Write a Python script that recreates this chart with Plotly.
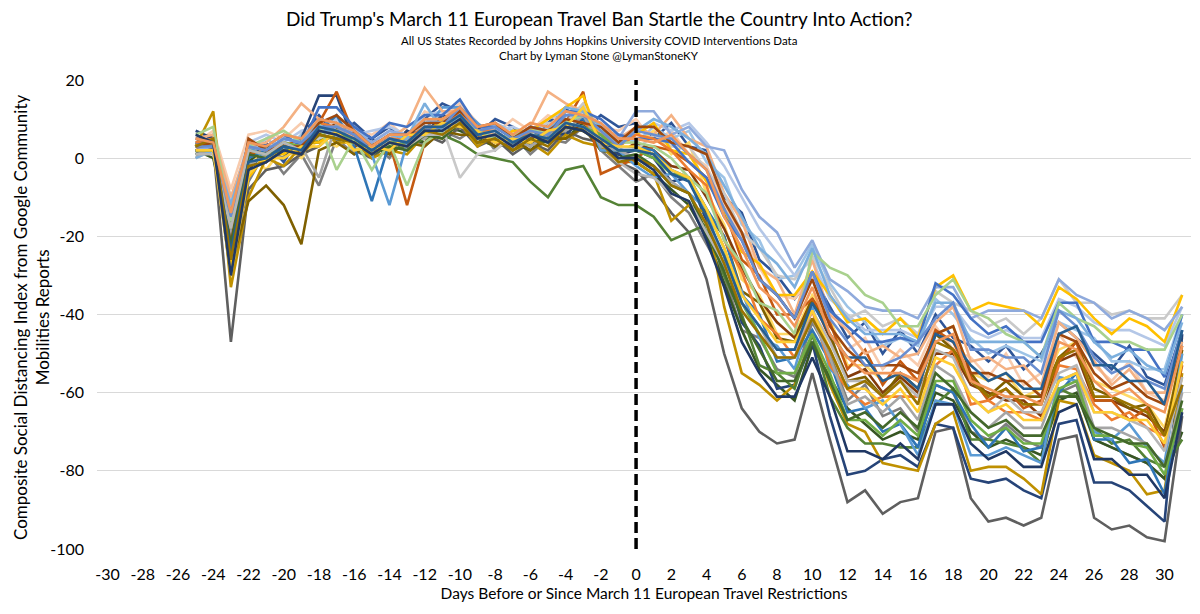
import plotly.graph_objects as go

days = list(range(-25, 32))
x_ticks = list(range(-30, 31, 2))
x_tick_text = [str(v) for v in x_ticks]
y_ticks = [-100, -80, -60, -40, -20, 0, 20]

# each state's composite index: 25 values for days -25..-1, then 32 values for days 0..31
s01_pre = [1, 3, -47, -8, -3, -2, 1, 3, 7, 2, 0, 4, 2, 6, 4, 8, 3, 5, 1, 4, 2, 7, 5, 4, -1]
s01_post = [-3, -8, -14, -19, -31, -50, -64, -70, -73, -72, -55, -72, -88, -85, -91, -88, -87, -70, -69, -87, -93, -92, -94, -92, -72, -71, -92, -95, -94, -97, -98, -66]
s02_pre = [7, 5, -25, -3, 2, 0, 5, 16, 16, 4, 5, 2, 7, 6, 11, 9, 8, 4, 6, 3, 7, 6, 10, 5, 1]
s02_post = [2, 0, -6, -5, -16, -25, -42, -48, -59, -58, -47, -66, -81, -80, -77, -76, -79, -68, -69, -82, -83, -82, -85, -87, -68, -67, -83, -83, -85, -89, -93, -45]
s03_pre = [3, 12, -33, -10, 0, -2, 3, 7, 4, 4, 0, 2, 1, 6, 5, 9, 3, 6, 2, 4, 1, 6, 4, 3, -1]
s03_post = [-1, -4, -16, -12, -14, -38, -55, -58, -62, -58, -45, -58, -68, -70, -78, -79, -80, -68, -65, -80, -79, -79, -82, -86, -62, -63, -76, -78, -80, -86, -85, -55]
s04_pre = [2, 3, -28, -11, -7, -12, -22, 2, 4, 1, 4, 1, 4, 3, 7, 6, 6, 3, 5, 2, 5, 5, 8, 2, 2]
s04_post = [3, 1, -4, -5, -14, -20, -34, -37, -46, -47, -36, -45, -57, -56, -61, -55, -59, -45, -49, -55, -61, -57, -61, -61, -51, -47, -59, -61, -64, -63, -71, -49]
s05_pre = [1, 2, -18, -2, 1, 2, 3, 5, 6, 4, 2, 3, 3, 5, 6, 4, 1, 0, -1, -6, -10, -3, -2, -10, -12]
s05_post = [-12, -15, -21, -19, -17, -30, -40, -53, -55, -59, -45, -61, -69, -73, -73, -74, -74, -63, -59, -72, -72, -73, -74, -78, -59, -61, -69, -73, -72, -77, -79, -72]
s06_pre = [2, 4, -20, 1, 2, 3, 5, 9, 17, 6, 3, 4, -12, 4, 7, 11, 6, 4, 3, 5, 6, 9, 17, -4, -2]
s06_post = [0, 3, 2, -1, -5, -13, -26, -30, -40, -40, -36, -42, -54, -49, -58, -52, -57, -44, -47, -56, -62, -59, -64, -62, -52, -47, -62, -62, -67, -64, -74, -53]
s07_pre = [4, 3, -20, 0, 2, 2, 5, 7, 11, 3, -11, 4, 4, 8, 8, 13, 6, 6, 3, 7, 5, 10, 10, 6, 2]
s07_post = [3, 2, -3, -5, -13, -20, -35, -40, -52, -51, -44, -52, -65, -64, -70, -68, -74, -58, -60, -68, -74, -69, -75, -74, -60, -55, -72, -72, -78, -77, -86, -58]
s08_pre = [2, 1, -17, 3, 0, 3, 2, 7, 7, 6, 1, -12, 4, 7, 13, 13, 9, 5, 6, 4, 7, 9, 13, 2, 2]
s08_post = [-2, -5, -4, -9, -13, -28, -34, -46, -48, -54, -38, -54, -58, -64, -62, -68, -76, -62, -63, -76, -76, -74, -76, -78, -56, -57, -70, -72, -68, -74, -78, -50]
s09_pre = [5, 6, -10, 3, 4, 8, 14, 10, 9, 5, 4, 5, 8, 18, 12, 12, 7, 6, 5, 8, 17, 14, 12, 6, 5]
s09_post = [8, 6, 11, 5, 3, -9, -16, -28, -31, -40, -26, -40, -44, -50, -48, -51, -50, -42, -38, -52, -51, -54, -53, -58, -42, -46, -52, -58, -54, -60, -60, -47]
s10_pre = [0, 2, -22, 5, 2, 3, 4, 5, 7, 7, 3, 4, 3, 7, 8, -5, 1, 2, 6, 6, 9, 9, 14, 5, 3]
s10_post = [2, 6, 3, 3, -3, -9, -19, -23, -30, -31, -25, -33, -41, -39, -43, -41, -45, -34, -37, -39, -43, -41, -45, -41, -31, -37, -37, -40, -39, -41, -41, -35]
s11_pre = [3, 4, -28, -5, 1, 1, 4, 4, 7, 2, 3, 2, 5, 6, 10, 9, 7, 4, 7, 7, 10, 13, 16, 4, 3]
s11_post = [6, 9, 2, 1, -6, -13, -24, -27, -35, -35, -29, -35, -42, -41, -45, -41, -46, -33, -30, -39, -37, -38, -39, -43, -33, -36, -41, -45, -41, -43, -47, -35]
s12_pre = [2, 3, -12, 3, 2, 5, 4, 8, 7, 7, 4, 7, 6, 10, 9, 13, 7, 8, 5, 8, 7, 12, 11, 9, 5]
s12_post = [12, 12, 6, 8, 3, 2, -8, -15, -19, -28, -21, -31, -34, -38, -39, -39, -41, -33, -33, -41, -39, -39, -39, -41, -31, -35, -37, -41, -39, -41, -44, -38]
s13_pre = [4, 3, -14, 4, 3, 6, 3, 13, 13, 8, 5, 9, 8, 11, 11, 15, 8, 8, 5, 8, 7, 12, 12, 10, 6]
s13_post = [5, 5, 4, -1, -5, -15, -21, -31, -35, -41, -29, -39, -43, -47, -47, -46, -47, -32, -35, -41, -45, -43, -47, -47, -37, -37, -47, -47, -49, -49, -56, -40]
s14_pre = [4, 5, -16, 3, 2, 4, 3, 9, 8, 6, 2, 5, 5, 8, 8, 12, 7, 7, 4, 7, 6, 10, 9, 6, 3]
s14_post = [6, 5, 2, -3, -7, -21, -29, -41, -45, -51, -39, -53, -59, -63, -61, -61, -61, -53, -49, -63, -62, -65, -65, -67, -53, -54, -63, -67, -65, -69, -71, -58]
s15_pre = [1, 2, -20, -2, 1, 0, 3, -5, 9, 2, 3, 2, 5, 5, 9, 9, 7, 4, 5, 3, 6, 7, 11, 3, 2]
s15_post = [0, -2, -6, -9, -17, -25, -37, -43, -51, -51, -41, -51, -63, -61, -65, -61, -67, -53, -56, -65, -69, -65, -69, -69, -57, -55, -69, -69, -71, -73, -79, -60]
s16_pre = [3, 4, -18, 2, 1, 4, 3, 7, 6, 5, 1, 4, 4, 7, 7, 10, 5, 6, 4, 6, 5, 9, 8, 6, 2]
s16_post = [2, 0, -4, -5, -13, -23, -37, -45, -55, -55, -45, -55, -67, -67, -71, -67, -71, -57, -57, -67, -71, -69, -73, -73, -59, -57, -71, -71, -73, -74, -81, -64]
s17_pre = [6, 8, -16, 3, 5, 7, 4, 9, -3, 5, -3, 4, -7, 4, 7, 10, 7, 5, 6, 7, 7, 9, 11, 7, 4]
s17_post = [4, 3, 0, -5, -9, -21, -27, -37, -39, -45, -24, -28, -30, -35, -37, -43, -43, -35, -31, -39, -41, -45, -47, -51, -37, -41, -43, -47, -47, -49, -49, -40]
s18_pre = [0, 2, -12, 3, 2, 5, 4, 10, 9, 7, 3, 6, 5, 14, 7, 11, 6, 7, 4, 8, 7, 13, 12, 8, 4]
s18_post = [7, 10, 8, 5, 1, -7, -15, -23, -27, -33, -23, -35, -41, -45, -45, -45, -47, -37, -37, -47, -47, -47, -47, -51, -39, -41, -47, -51, -49, -53, -55, -42]
s19_pre = [3, 4, -22, 5, 2, 3, 3, 9, 11, 7, 3, 6, 6, 9, 9, 12, 8, 9, 5, 8, 7, 10, 9, 8, 4]
s19_post = [8, 8, 4, 3, 1, -11, -19, -31, -35, -41, -31, -43, -49, -53, -53, -53, -55, -45, -43, -55, -55, -57, -57, -61, -45, -47, -55, -59, -57, -61, -63, -48]
s20_pre = [3, 3, -15, 3, 2, 5, 4, 8, 8, 6, 2, 5, 4, 7, 8, 13, 7, 8, 5, 7, 6, 11, 11, 7, 3]
s20_post = [7, 6, 5, 1, -3, -13, -21, -31, -35, -41, -29, -41, -47, -53, -53, -51, -47, -41, -37, -49, -49, -51, -51, -55, -39, -43, -51, -55, -53, -57, -59, -44]
s21_pre = [2, 2, -22, 1, 0, 3, 2, 6, 5, 4, 1, 3, 2, 6, 5, 9, 4, 5, 2, 5, 4, 8, 7, 4, 0]
s21_post = [1, -2, -7, -9, -19, -29, -41, -49, -57, -57, -47, -57, -67, -65, -69, -65, -69, -55, -59, -65, -69, -67, -71, -71, -61, -61, -69, -71, -73, -73, -79, -62]
s22_pre = [1, 1, -18, 2, 1, 4, 2, 7, 6, 4, 1, 4, 3, 6, 6, 9, 5, 6, 3, 6, 5, 9, 8, 4, -1]
s22_post = [-4, -5, -9, -11, -19, -27, -37, -43, -49, -49, -39, -47, -57, -57, -61, -57, -61, -49, -51, -61, -65, -61, -65, -65, -55, -53, -65, -65, -67, -69, -75, -56]
s23_pre = [2, 2, -30, -4, 0, 0, 3, 3, 7, 2, 3, 2, 6, 6, 9, 8, 7, 4, 5, 4, 7, 8, 13, 4, 3]
s23_post = [3, 1, -3, -5, -13, -23, -35, -41, -47, -47, -39, -49, -59, -59, -63, -59, -65, -51, -53, -61, -65, -63, -67, -67, -57, -55, -65, -65, -67, -67, -73, -52]
s24_pre = [5, 4, -24, -1, 0, 3, 2, 8, 7, 5, 2, 5, 4, 8, 8, 11, 6, 7, 4, 6, 5, 9, 8, 5, 2]
s24_post = [2, 1, -4, -6, -15, -25, -37, -43, -49, -49, -37, -45, -51, -51, -57, -55, -59, -45, -47, -53, -57, -55, -59, -59, -45, -43, -53, -53, -57, -57, -63, -44]
s25_pre = [3, 5, -26, -2, -1, 2, 1, 6, 5, 4, 1, 4, 3, 7, 6, 9, 4, 5, 2, 5, 3, 8, 7, 4, -1]
s25_post = [0, -2, -7, -9, -17, -27, -39, -45, -51, -51, -41, -49, -59, -57, -61, -57, -63, -47, -49, -57, -61, -59, -63, -63, -51, -49, -61, -61, -63, -65, -71, -58]
s26_pre = [6, 4, -30, -3, -1, 2, 1, 7, 6, 4, 1, 4, 3, 7, 7, 10, 5, 6, 3, 6, 4, 8, 7, 4, 0]
s26_post = [0, -3, -9, -11, -21, -33, -47, -55, -61, -61, -51, -61, -75, -75, -77, -73, -77, -63, -63, -73, -77, -75, -79, -79, -65, -63, -77, -77, -81, -81, -87, -65]
s27_pre = [5, 4, -14, 4, 3, 6, 5, 10, 9, 7, 3, 6, 6, 10, 10, 13, 8, 9, 6, 9, 8, 12, 11, 9, 5]
s27_post = [5, 4, 6, 1, -3, -15, -23, -33, -37, -43, -33, -45, -51, -55, -55, -55, -57, -47, -45, -57, -59, -61, -61, -63, -47, -49, -57, -61, -59, -63, -65, -48]
s28_pre = [3, 6, -19, 0, 4, -1, 6, 11, 6, 9, 5, 8, 3, 10, 14, 12, 6, 10, 8, 4, 9, 13, 7, 11, 8]
s28_post = [9, 5, 9, 3, 2, -10, -14, -26, -30, -36, -30, -38, -46, -42, -50, -44, -50, -40, -46, -48, -52, -48, -54, -50, -42, -46, -50, -54, -48, -56, -58, -44]
s29_pre = [4, 7, -8, 6, 7, 5, 9, 5, 11, 7, 6, 9, 5, 12, 10, 14, 9, 6, 10, 7, 11, 9, 14, 8, 7]
s29_post = [10, 4, 7, 1, -2, -12, -20, -28, -35, -36, -30, -43, -49, -46, -54, -49, -53, -43, -49, -51, -56, -50, -58, -55, -45, -51, -53, -57, -52, -60, -62, -46]
s30_pre = [0, 3, -30, -6, 2, -4, 1, -7, 5, 1, 4, 0, 6, 3, 7, 5, 8, 2, 6, 1, 5, 4, 8, 2, -2]
s30_post = [-6, -4, -10, -14, -22, -30, -44, -46, -54, -56, -42, -50, -62, -58, -66, -64, -70, -58, -60, -70, -72, -68, -72, -74, -60, -58, -72, -74, -76, -78, -82, -64]
s31_pre = [4, 2, -24, 2, -3, 3, 0, 5, 3, 6, 3, 5, 2, 8, 6, 11, 5, 3, 7, 4, 8, 6, 10, 3, 4]
s31_post = [4, 7, 1, 4, -9, -17, -31, -35, -45, -45, -35, -41, -53, -53, -57, -55, -57, -45, -43, -55, -57, -55, -61, -59, -49, -47, -57, -59, -61, -63, -69, -50]
s32_pre = [1, 4, -10, 1, 5, 2, 6, 9, 5, 8, 4, 7, 5, 9, 11, 10, 6, 9, 7, 5, 8, 11, 9, 6, 6]
s32_post = [4, 8, 5, 7, -1, -5, -17, -21, -31, -30, -22, -32, -38, -42, -48, -46, -48, -36, -40, -46, -50, -48, -50, -52, -42, -44, -46, -52, -52, -54, -54, -40]
s33_pre = [2, 0, -20, -1, 3, 1, 4, 4, 8, 2, 3, 1, 5, 4, 8, 7, 5, 3, 4, 2, 6, 5, 9, 2, 1]
s33_post = [-1, -4, -8, -12, -20, -32, -44, -54, -58, -62, -48, -56, -64, -68, -72, -70, -72, -60, -62, -70, -74, -72, -74, -76, -62, -60, -72, -74, -76, -78, -82, -70]
s34_pre = [3, 2, -21, 2, -1, 4, 1, 6, 9, 3, 4, 3, 7, 5, 10, 8, 7, 6, 3, 6, 5, 9, 7, 5, 1]
s34_post = [4, 2, -2, -3, -10, -18, -28, -36, -42, -46, -36, -46, -56, -54, -60, -56, -60, -50, -50, -58, -60, -62, -62, -66, -52, -50, -62, -62, -64, -66, -70, -52]
s35_pre = [3, 5, -11, 4, 6, 4, 7, 8, 10, 6, 7, 8, 6, 11, 12, 11, 8, 7, 8, 6, 10, 12, 10, 7, 6]
s35_post = [6, 9, 7, 9, 4, -2, -10, -18, -24, -30, -26, -36, -40, -44, -44, -44, -46, -38, -38, -44, -46, -44, -46, -46, -36, -38, -42, -44, -44, -46, -48, -38]

states = [
    ("State 28", "#2F5597", s28_pre, s28_post),
    ("State 29", "#F8CBAD", s29_pre, s29_post),
    ("State 30", "#7F7F7F", s30_pre, s30_post),
    ("State 31", "#FFD966", s31_pre, s31_post),
    ("State 32", "#9DC3E6", s32_pre, s32_post),
    ("State 33", "#375623", s33_pre, s33_post),
    ("State 34", "#843C0C", s34_pre, s34_post),
    ("State 35", "#B4C7E7", s35_pre, s35_post),
    ("State 1", "#5f5f5f", s01_pre, s01_post),
    ("State 2", "#264478", s02_pre, s02_post),
    ("State 3", "#BF9000", s03_pre, s03_post),
    ("State 4", "#7F6000", s04_pre, s04_post),
    ("State 5", "#548235", s05_pre, s05_post),
    ("State 6", "#C55A11", s06_pre, s06_post),
    ("State 7", "#2E75B6", s07_pre, s07_post),
    ("State 8", "#5B9BD5", s08_pre, s08_post),
    ("State 9", "#F4B183", s09_pre, s09_post),
    ("State 10", "#C9C9C9", s10_pre, s10_post),
    ("State 11", "#FFC000", s11_pre, s11_post),
    ("State 12", "#8FAADC", s12_pre, s12_post),
    ("State 13", "#4472C4", s13_pre, s13_post),
    ("State 14", "#ED7D31", s14_pre, s14_post),
    ("State 15", "#A5A5A5", s15_pre, s15_post),
    ("State 16", "#70AD47", s16_pre, s16_post),
    ("State 17", "#A9D18E", s17_pre, s17_post),
    ("State 18", "#7CAFDD", s18_pre, s18_post),
    ("State 19", "#9E480E", s19_pre, s19_post),
    ("State 20", "#698ED0", s20_pre, s20_post),
    ("State 21", "#43682B", s21_pre, s21_post),
    ("State 22", "#B7B7B7", s22_pre, s22_post),
    ("State 23", "#FFCD33", s23_pre, s23_post),
    ("State 24", "#255E91", s24_pre, s24_post),
    ("State 25", "#997300", s25_pre, s25_post),
    ("State 26", "#203864", s26_pre, s26_post),
    ("State 27", "#F1975A", s27_pre, s27_post),
]

FONT = "Gill Sans, Gill Sans MT, Lato, sans-serif"

fig = go.Figure()
for name, color, pre, post in states:
    fig.add_trace(go.Scatter(
        x=days, y=pre + post, mode="lines", name=name,
        line=dict(color=color, width=2.6), showlegend=False,
    ))

fig.add_shape(type="line", xref="x", yref="y", x0=0, x1=0, y0=-100, y1=20,
              line=dict(color="black", width=3.5, dash="11px,5px"), layer="above")

fig.update_layout(
    width=1200, height=614,
    margin=dict(l=97, r=9, t=80, b=65),
    paper_bgcolor="white", plot_bgcolor="white",
    font=dict(family=FONT, color="black"),
    xaxis=dict(
        range=[-30.6, 31.5], tickmode="array", tickvals=x_ticks, ticktext=x_tick_text,
        showgrid=False, zeroline=False, showline=False, ticks="",
        tickfont=dict(size=16, color="black"), ticklabelstandoff=14,
        title=dict(text="Days Before or Since March 11 European Travel Restrictions",
                   font=dict(size=15.5, color="black"), standoff=6),
    ),
    yaxis=dict(
        range=[-100, 20], tickmode="array", tickvals=y_ticks,
        ticktext=[str(v) if v >= 0 else "-" + str(-v) for v in y_ticks],
        showgrid=True, gridcolor="#D9D9D9", gridwidth=1,
        zeroline=False, showline=False, ticks="",
        tickfont=dict(size=16, color="black"), ticklabelstandoff=12,
    ),
    annotations=[
        dict(text="Did Trump's March 11 European Travel Ban Startle the Country Into Action?",
             xref="paper", yref="paper", x=0.459, y=(549 - 18) / 469, xanchor="center", yanchor="middle",
             showarrow=False, font=dict(size=19, color="black", family=FONT)),
        dict(text="All US States Recorded by Johns Hopkins University COVID Interventions Data",
             xref="paper", yref="paper", x=0.459, y=(549 - 40) / 469, xanchor="center", yanchor="middle",
             showarrow=False, font=dict(size=11.5, color="black", family=FONT)),
        dict(text="Chart by Lyman Stone @LymanStoneKY",
             xref="paper", yref="paper", x=0.459, y=(549 - 55) / 469, xanchor="center", yanchor="middle",
             showarrow=False, font=dict(size=11.5, color="black", family=FONT)),
        dict(text="Composite Social Distancing Index from Google Community<br>Mobilities Reports",
             xref="paper", yref="paper", x=(31 - 97) / 1094, y=(549 - 318) / 469,
             xanchor="center", yanchor="middle", textangle=-90, showarrow=False,
             font=dict(size=17, color="black", family=FONT)),
    ],
)

fig.write_html("out.html")
